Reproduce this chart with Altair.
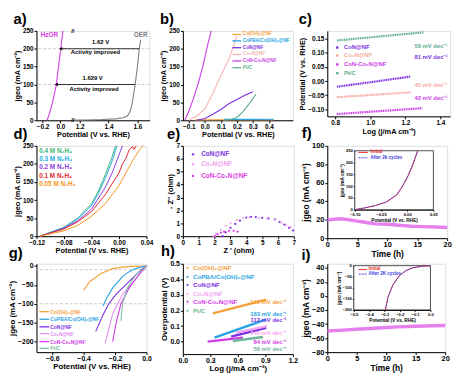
import altair as alt
import pandas as pd

FONT = "Liberation Sans"

# ---------------- colours ----------------
ORANGE = "#f5a03a"; BLUE = "#29a3e3"; PURPLE = "#7b2fe0"; MAGENTA = "#d23be6"; GREEN = "#5fae8c"

# ---------------- (a) HzOR vs OER ----------------
a_hzor_v = [-0.148, -0.12, -0.09, -0.065, -0.045, -0.02, 0.004, 0.029]
a_hzor_j = [0, 20, 48, 75, 100, 150, 200, 250]
a_oer_v = [1.16, 1.25, 1.35, 1.45, 1.50, 1.53, 1.55, 1.565, 1.584, 1.60, 1.612, 1.622]
a_oer_j = [0.5, 1, 2, 4, 7, 12, 25, 50, 100, 150, 200, 225]
a_arrow_j = [200, 100]
a_arrow_hzor = [0.004, -0.045]
a_arrow_oer = [1.612, 1.584]
a_text = ["1.62 V", "Activity improved", "1.629 V", "Activity improved"]
a_text_x = [1.345, 1.31, 1.29, 1.30]
a_text_y = [218, 190, 118, 88]

# ---------------- (b) HzOR LSV ----------------
b_names = ["Co(OH)₂@NF", "CoPBA/Co(OH)₂@NF", "CoN@NF", "Co₂N@NF", "CoN-Co₂N@NF", "Pt/C"]
b_colors = [ORANGE, BLUE, PURPLE, "#f6b5b5", "#c93ee6", GREEN]
b_x = [[-0.06, 0.1, 0.25, 0.43],
       [0.12, 0.25, 0.43],
       [-0.05, 0.0, 0.05, 0.1, 0.15, 0.2, 0.25, 0.3],
       [-0.1, -0.05, 0.0, 0.05, 0.1, 0.15, 0.2],
       [-0.125, -0.1, -0.07, -0.04, -0.01, 0.02, 0.04],
       [0.12, 0.16, 0.2, 0.24, 0.28, 0.32]]
b_y = [[1.2, 1.3, 1.4, 1.5],
       [2.5, 2.6, 2.7],
       [0, 5, 17, 30, 46, 58, 70, 80],
       [0, 12, 32, 75, 125, 170, 235],
       [0, 25, 62, 105, 155, 215, 250],
       [0, 2, 8, 25, 48, 73]]

# ---------------- (c) Tafel HzOR ----------------
c_names = ["CoN@NF", "Co₂N@NF", "CoN-Co₂N@NF", "Pt/C"]
c_colors = [PURPLE, "#f7a9a0", "#cc3de8", GREEN]
c_x = [[0.81, 1.0, 1.23], [0.81, 1.23], [0.81, 1.296], [0.81, 1.304]]
c_y = [[-0.02, -0.004, 0.016], [-0.057, -0.04], [-0.117, -0.096], [0.144, 0.173]]
c_slopes = ["58 mV dec⁻¹", "81 mV dec⁻¹", "45 mV dec⁻¹", "42 mV dec⁻¹"]
c_slope_colors = [GREEN, PURPLE, "#f7a9a0", "#cc3de8"]
c_slope_y = [0.123, 0.086, -0.015, -0.059]

# ---------------- (d) N2H4 concentration ----------------
d_names = ["0.4 M N₂H₄", "0.3 M N₂H₄", "0.2 M N₂H₄", "0.1 M N₂H₄", "0.05 M N₂H₄"]
d_colors = ["#3cb878", "#27aae1", "#8c3be0", "#e6262e", "#f7941d"]
d_x = [[-0.115, -0.08, -0.06, -0.04, -0.03, -0.02, -0.01, -0.005],
       [-0.115, -0.08, -0.06, -0.04, -0.03, -0.02, -0.01, -0.003],
       [-0.115, -0.08, -0.06, -0.04, -0.02, -0.01, 0.0, 0.005],
       [-0.115, -0.08, -0.06, -0.04, -0.02, -0.01, 0.0, 0.005, 0.01, 0.015, 0.02, 0.022, 0.025],
       [-0.115, -0.08, -0.06, -0.04, -0.02, 0.0, 0.01, 0.02, 0.03, 0.035]]
d_y = [[0, 25, 50, 90, 125, 170, 220, 250],
       [0, 24, 48, 85, 118, 160, 208, 250],
       [0, 22, 43, 75, 135, 175, 225, 250],
       [0, 20, 40, 68, 115, 145, 175, 200, 215, 240, 248, 240, 250],
       [0, 15, 30, 55, 90, 140, 175, 210, 240, 250]]

# ---------------- (e) Nyquist ----------------
e_names = ["CoN@NF", "Co₂N@NF", "CoN-Co₂N@NF"]
e_colors = [PURPLE, "#f0a0f0", "#d83be0"]
e_x = [[2.5, 2.7, 3.0, 3.3, 3.6, 4.0, 4.3, 4.6, 5.0, 5.4, 5.8, 6.1, 6.4, 6.7, 6.95],
       [1.95, 2.1, 2.4, 2.7, 3.0, 3.4, 3.8, 4.2, 4.8, 5.3, 5.8, 6.2, 6.5, 6.8],
       [2.05, 2.2, 2.4, 2.6, 2.9, 3.2, 3.45]]
e_y = [[0, 0.3, 0.65, 0.95, 1.2, 1.45, 1.5, 1.48, 1.42, 1.38, 1.3, 1.1, 0.9, 0.65, 0.45],
       [0, 0.2, 0.5, 0.8, 1.0, 1.25, 1.4, 1.45, 1.4, 1.35, 1.25, 1.05, 0.85, 0.7],
       [0, 0.15, 0.27, 0.35, 0.42, 0.42, 0.35]]

# ---------------- (f) HzOR stability ----------------
f_t = [0, 1, 2, 3, 4, 5, 6, 7, 8, 10, 12, 14, 16, 18, 20]
f_j = [19.5, 20.5, 21, 20.5, 19.5, 18.5, 17.5, 16.5, 15.5, 15, 14, 13, 12.5, 12, 11.5]
f_in_names = ["Initial", "After 2k cycles"]
f_in_colors = ["#e8282e", "#3a3ae0"]
f_in_v = [-0.10, -0.08, -0.06, -0.04, -0.02, -0.01, 0.0, 0.01, 0.02]
f_in_j1 = [0, 8, 18, 32, 62, 95, 135, 185, 250]
f_in_j2 = [0, 8, 18, 33, 64, 97, 138, 190, 248]

# ---------------- (g) HER LSV ----------------
g_names = b_names
g_colors = [ORANGE, BLUE, PURPLE, "#e58ef2", MAGENTA, "#7cc0a0"]
g_x = [[0.0, -0.1, -0.15, -0.215, -0.29, -0.36, -0.40],
       [0.0, -0.03, -0.069, -0.11, -0.153, -0.215, -0.25, -0.277],
       [0.0, -0.027, -0.11, -0.194, -0.24, -0.277, -0.323],
       [0.0, -0.04, -0.08, -0.153, -0.215, -0.263],
       [0.0, -0.05, -0.11, -0.163, -0.194, -0.215],
       [0.0, -0.069, -0.121, -0.153, -0.163]]
g_y = [[0, -1, -3, -7, -20, -41, -64],
       [0, -2, -7, -15, -28, -58, -82, -106],
       [0, -7, -41, -75, -100, -130, -173],
       [0, -18, -41, -75, -126, -204],
       [0, -24, -58, -100, -151, -200],
       [0, -24, -58, -100, -145]]

# ---------------- (h) Tafel HER ----------------
h_colors = [ORANGE, BLUE, PURPLE, "#f2a6f2", MAGENTA, "#6fb597"]
h_x = [[0.327, 0.909], [0.345, 0.909], [0.527, 0.909], [0.58, 0.916], [0.27, 0.655], [0.545, 0.873]]
h_y = [[0.181, 0.27], [0.026, 0.143], [0.032, 0.089], [0.057, 0.10], [0.0, 0.026], [0.004, 0.03]]
h_slopes = ["140 mV dec⁻¹", "183 mV dec⁻¹", "112 mV dec⁻¹", "140 mV dec⁻¹", "84 mV dec⁻¹", "56 mV dec⁻¹"]
h_slope_y = [0.253, 0.175, 0.138, 0.053, -0.002, -0.049]

# ---------------- (i) HER stability ----------------
i_t = [0, 2, 5, 8, 10, 12, 15, 18, 20]
i_j = [-50, -49, -47.5, -46, -45, -44, -43, -42.5, -42]
i_in_v = [0.0, -0.05, -0.117, -0.16, -0.202, -0.245, -0.277, -0.294]
i_in_j1 = [0, -2, -10, -22, -44, -86, -142, -200]
i_in_j2 = [0, -2, -10, -23, -45, -88, -144, -200]


# ================= helpers =================
def ax(title, values=None, fmt=None, ls=6.5, ts=7.5, **kw):
    d = dict(title=title, labelFontSize=ls, titleFontSize=ts, labelFontWeight="bold",
             titleFontWeight="bold", grid=False, tickSize=2.5, labelPadding=1, titlePadding=1,
             domainColor="black", tickColor="black", labelColor="black", titleColor="black",
             labelFont=FONT, titleFont=FONT, labelFlush=False, labelOverlap=False)
    if values is not None:
        d["values"] = values
    if fmt:
        d["format"] = fmt
    d.update(kw)
    return alt.Axis(**d)


def series_df(names, xs, ys, colors):
    rows = []
    for n, xv, yv, c in zip(names, xs, ys, colors):
        for k, (a, b) in enumerate(zip(xv, yv)):
            rows.append(dict(x=a, y=b, s=n, c=c, o=k))
    return pd.DataFrame(rows)


def lines(df, xe, ye, sw=1.0, dash=None, opacity=1.0):
    m = dict(strokeWidth=sw, opacity=opacity)
    if dash:
        m["strokeDash"] = dash
    return alt.Chart(df).mark_line(**m).encode(
        x=xe, y=ye, color=alt.Color("c:N", scale=None), detail="s:N", order="o:Q")


def texts(df, xe, ye, size=6, align="left", weight="bold"):
    return alt.Chart(df).mark_text(align=align, baseline="middle", fontSize=size,
                                   fontWeight=weight, font=FONT).encode(
        x=xe, y=ye, text="t:N", color=alt.Color("c:N", scale=None))


def tdf(t, x, y, c):
    n = len(t)
    if not isinstance(x, list):
        x = [x] * n
    if not isinstance(c, list):
        c = [c] * n
    return pd.DataFrame({"t": t, "x": x, "y": y, "c": c})


def title(s):
    return alt.TitleParams(text=s, anchor="start", fontSize=15, fontWeight="bold",
                           font=FONT, color="black", offset=1)


# ================= (a) =================
a_xe = alt.X("x:Q", scale=alt.Scale(domain=[-0.267, 0.14, 1.16, 1.683], range=[0, 37, 38, 115],
                                     nice=False, zero=False),
             axis=ax("Potential (V vs. RHE)", [-0.2, 0.0, 1.2, 1.4, 1.6], ".1f"))
a_ye = alt.Y("y:Q", scale=alt.Scale(domain=[0, 250], nice=False),
             axis=ax("jgeo (mA cm⁻²)", list(range(0, 251, 50))))
a_ref = alt.Chart(pd.DataFrame({"y": a_arrow_j})).mark_rule(
    color="#bbbbbb", strokeDash=[3, 2], strokeWidth=0.8).encode(y=a_ye)
a_lines = lines(series_df(["HzOR", "OER"], [a_hzor_v, a_oer_v], [a_hzor_j, a_oer_j],
                          ["#d63ce8", "#7f7f7f"]), a_xe, a_ye, sw=1.1)
a_arr_df = pd.DataFrame({"x": a_arrow_oer, "x2": a_arrow_hzor, "y": a_arrow_j})
a_arr = alt.Chart(a_arr_df).mark_rule(color="black", strokeWidth=0.8).encode(x=a_xe, x2="x2:Q", y=a_ye)
a_head = alt.Chart(pd.DataFrame({"x": a_arrow_hzor, "y": a_arrow_j})).mark_point(
    shape="triangle-left", filled=True, size=14, color="black", opacity=1).encode(x=a_xe, y=a_ye)
a_txt = texts(tdf(a_text, a_text_x, a_text_y, "black"), a_xe, a_ye, size=6, align="center")
a_lbl2 = texts(tdf(["HzOR"], [-0.22], [238], ["#d63ce8"]), a_xe, a_ye, size=6.5, align="left")
a_lbl3 = texts(tdf(["OER"], [1.67], [238], ["#7f7f7f"]), a_xe, a_ye, size=6.5, align="right")
a_brk = texts(tdf(["//", "//"], [0.15, 0.15], [250, 0], "black"), a_xe, a_ye, size=6, align="center")
panel_a = alt.layer(a_ref, a_lines, a_arr, a_head, a_txt, a_lbl2, a_lbl3, a_brk).properties(
    width=115, height=91, title=title("a)"))

# ================= (b) =================
b_xe = alt.X("x:Q", scale=alt.Scale(domain=[-0.137, 0.55], nice=False, zero=False),
             axis=ax("Potential (V vs. RHE)", [-0.1, 0.0, 0.1, 0.2, 0.3, 0.4], ".1f"))
b_ye = alt.Y("y:Q", scale=alt.Scale(domain=[0, 250], nice=False),
             axis=ax("jgeo (mA cm⁻²)", list(range(0, 251, 50))))
b_lines = lines(series_df(b_names, b_x, b_y, b_colors), b_xe, b_ye, sw=1.1)
b_leg_y = [240, 222, 203, 184, 166, 147]
b_leg = pd.DataFrame({"x": [0.172] * 6, "x2": [0.227] * 6, "y": b_leg_y, "c": b_colors})
b_leg_l = alt.Chart(b_leg).mark_rule(strokeWidth=1.3).encode(
    x=b_xe, x2="x2:Q", y=b_ye, color=alt.Color("c:N", scale=None))
b_leg_t = texts(tdf(b_names, 0.237, b_leg_y, b_colors), b_xe, b_ye, size=4.8)
panel_b = alt.layer(b_lines, b_leg_l, b_leg_t).properties(width=112, height=91, title=title("b)"))

# ================= (c) =================
c_xe = alt.X("x:Q", scale=alt.Scale(domain=[0.755, 1.455], nice=False, zero=False),
             axis=ax("Log (j/mA cm⁻²)", [0.8, 1.0, 1.2, 1.4], ".1f"))
c_ye = alt.Y("y:Q", scale=alt.Scale(domain=[-0.125, 0.178], nice=False, zero=False),
             axis=ax("Potential (V vs. RHE)", [-0.10, -0.05, 0.0, 0.05, 0.10, 0.15], ".2f"))
c_lines = lines(series_df(c_names, c_x, c_y, c_colors), c_xe, c_ye, sw=2.2, dash=[1.2, 0.6])
c_leg_y = [0.119, 0.091, 0.059, 0.028]
c_leg_p = alt.Chart(pd.DataFrame({"x": [0.812] * 4, "y": c_leg_y, "c": c_colors})).mark_point(
    shape="square", filled=True, size=6, opacity=1).encode(x=c_xe, y=c_ye, color=alt.Color("c:N", scale=None))
c_leg_t = texts(tdf(c_names, 0.85, c_leg_y, c_colors), c_xe, c_ye, size=6)
c_sl = texts(tdf(c_slopes, 1.44, c_slope_y, c_slope_colors), c_xe, c_ye, size=6, align="right")
panel_c = alt.layer(c_lines, c_leg_p, c_leg_t, c_sl).properties(width=125, height=87, title=title("c)"))

# ================= (d) =================
d_xe = alt.X("x:Q", scale=alt.Scale(domain=[-0.12, 0.04], nice=False, zero=False),
             axis=ax("Potential (V vs. RHE)", [-0.12, -0.08, -0.04, 0.0, 0.04], ".2f"))
d_ye = alt.Y("y:Q", scale=alt.Scale(domain=[0, 250], nice=False),
             axis=ax("jgeo (mA cm⁻²)", list(range(0, 251, 50))))
d_lines = lines(series_df(d_names, d_x, d_y, d_colors), d_xe, d_ye, sw=1.0)
d_leg_t = texts(tdf(d_names, -0.116, [236, 214, 190, 166, 144], d_colors), d_xe, d_ye, size=6.5)
panel_d = alt.layer(d_lines, d_leg_t).properties(width=112, height=92, title=title("d)"))

# ================= (e) =================
e_xe = alt.X("x:Q", scale=alt.Scale(domain=[0, 7], nice=False), axis=ax("Z ' (ohm)", list(range(0, 8))))
e_ye = alt.Y("y:Q", scale=alt.Scale(domain=[0, 7], nice=False), axis=ax("- Z'' (ohm)", list(range(0, 8))))
e_pts = alt.Chart(series_df(e_names, e_x, e_y, e_colors)).mark_point(
    filled=True, size=5, opacity=1).encode(x=e_xe, y=e_ye, color=alt.Color("c:N", scale=None))
e_leg_y = [6.34, 5.57, 4.67]
e_leg_p = alt.Chart(pd.DataFrame({"x": [0.64] * 3, "y": e_leg_y, "c": e_colors})).mark_point(
    filled=True, size=6, opacity=1).encode(x=e_xe, y=e_ye, color=alt.Color("c:N", scale=None))
e_leg_t = texts(tdf(e_names, 1.16, e_leg_y, e_colors), e_xe, e_ye, size=6.5)
panel_e = alt.layer(e_pts, e_leg_p, e_leg_t).properties(width=113, height=92, title=title("e)"))


# ================= insets helper =================
def inset(vs, j1, j2, names, colors, xdom, ydom, xrng, yrng, xvals, yvals, xfmt, xoff, yoff,
          leg_x, leg_x2, leg_tx, leg_y):
    ixe = alt.X("x:Q", scale=alt.Scale(domain=xdom, range=xrng, nice=False, zero=False),
                axis=ax("Potential (V vs. RHE)", xvals, xfmt, ls=4.2, ts=4.8, orient="bottom",
                        offset=xoff, tickSize=1.5, titlePadding=1))
    iye = alt.Y("y:Q", scale=alt.Scale(domain=ydom, range=yrng, nice=False, zero=False),
                axis=ax("jgeo (mA cm⁻²)", yvals, None, ls=4.2, ts=4.8, orient="left",
                        offset=yoff, tickSize=1.5, titlePadding=1))
    frame = alt.Chart(pd.DataFrame({"x": [xdom[0]], "x2": [xdom[1]], "y": [ydom[0]], "y2": [ydom[1]]})).mark_rect(
        fill="white", stroke="black", strokeWidth=0.7).encode(x=ixe, x2="x2:Q", y=iye, y2="y2:Q")
    l1 = lines(series_df(names[:1], [vs], [j1], colors[:1]), ixe, iye, sw=1.0)
    l2 = lines(series_df(names[1:], [vs], [j2], colors[1:]), ixe, iye, sw=0.9, dash=[2, 1])
    lg = pd.DataFrame({"x": [leg_x] * 2, "x2": [leg_x2] * 2, "y": leg_y, "c": colors,
                       "s": names})
    lg1 = alt.Chart(lg.iloc[:1]).mark_rule(strokeWidth=1).encode(
        x=ixe, x2="x2:Q", y=iye, color=alt.Color("c:N", scale=None))
    lg2 = alt.Chart(lg.iloc[1:]).mark_rule(strokeWidth=1, strokeDash=[2, 1]).encode(
        x=ixe, x2="x2:Q", y=iye, color=alt.Color("c:N", scale=None))
    lt = texts(tdf(names, leg_tx, leg_y, colors), ixe, iye, size=4.6)
    return alt.layer(frame, l1, l2, lg1, lg2, lt)


# ================= (f) =================
f_xe = alt.X("x:Q", scale=alt.Scale(domain=[0, 20], nice=False),
             axis=ax("Time (h)", [0, 5, 10, 15, 20], ls=7.5, ts=8.5, labelPadding=0, titlePadding=1.5))
f_ye = alt.Y("y:Q", scale=alt.Scale(domain=[0, 100], nice=False),
             axis=ax("jgeo (mA cm⁻²)", [0, 20, 40, 60, 80, 100], ls=7.5, ts=8.5))
f_band = lines(series_df(["HzOR"], [f_t], [f_j], ["#e060e8"]), f_xe, f_ye, sw=3.5, opacity=0.8)
f_in = inset(f_in_v, f_in_j1, f_in_j2, f_in_names, f_in_colors, [-0.10, 0.05], [0, 250],
             [28, 108], [65, 5], [-0.10, -0.05, 0.0, 0.05], [0, 50, 100, 150, 200, 250], ".2f",
             65 - 94, -28, -0.093, -0.075, -0.070, [243, 220])
panel_f = alt.layer(f_band, f_in).resolve_scale(x="independent", y="independent").properties(
    width=122, height=94, title=title("f)"))

# ================= (g) =================
g_xe = alt.X("x:Q", scale=alt.Scale(domain=[-0.7, 0.0], nice=False, zero=False),
             axis=ax("Potential (V vs. RHE)", [-0.6, -0.4, -0.2, 0.0], ".1f", ls=7, ts=8, labelPadding=0))
g_ye = alt.Y("y:Q", scale=alt.Scale(domain=[-228, 6], nice=False, zero=False),
             axis=ax("jgeo (mA cm⁻²)", [0, -50, -100, -150, -200], ls=7, ts=8))
g_ref = alt.Chart(pd.DataFrame({"y": [-10, -100]})).mark_rule(
    color="#bbbbbb", strokeDash=[3, 2], strokeWidth=0.8).encode(y=g_ye)
g_lines = lines(series_df(g_names, g_x, g_y, g_colors), g_xe, g_ye, sw=1.1)
g_leg_y = [-121, -141, -161, -179, -200, -218]
g_leg = pd.DataFrame({"x": [-0.681] * 6, "x2": [-0.619] * 6, "y": g_leg_y, "c": g_colors})
g_leg_l = alt.Chart(g_leg).mark_rule(strokeWidth=1.3).encode(
    x=g_xe, x2="x2:Q", y=g_ye, color=alt.Color("c:N", scale=None))
g_leg_t = texts(tdf(g_names, -0.612, g_leg_y, g_colors), g_xe, g_ye, size=5)
panel_g = alt.layer(g_ref, g_lines, g_leg_l, g_leg_t).properties(width=112, height=90, title=title("g)"))

# ================= (h) =================
h_xe = alt.X("x:Q", scale=alt.Scale(domain=[0, 1.2], nice=False, zero=False),
             axis=ax("Log (j/mA cm⁻²)", [0.0, 0.3, 0.6, 0.9, 1.2], ".1f", ls=7, ts=8, labelPadding=0))
h_ye = alt.Y("y:Q", scale=alt.Scale(domain=[-0.08, 0.5], nice=False, zero=False),
             axis=ax("Overpotential (V)", [0.0, 0.1, 0.2, 0.3, 0.4, 0.5], ".1f", ls=7, ts=8))
h_lines = lines(series_df(b_names, h_x, h_y, h_colors), h_xe, h_ye, sw=2.4)
h_leg_y = [0.473, 0.415, 0.364, 0.307, 0.256, 0.198]
h_leg_p = alt.Chart(pd.DataFrame({"x": [0.055] * 6, "y": h_leg_y, "c": h_colors})).mark_point(
    shape="triangle-right", filled=True, size=8, opacity=1).encode(
    x=h_xe, y=h_ye, color=alt.Color("c:N", scale=None))
h_leg_t = texts(tdf(b_names, 0.11, h_leg_y, h_colors), h_xe, h_ye, size=6.3)
h_sl = texts(tdf(h_slopes, 1.13, h_slope_y, h_colors), h_xe, h_ye, size=6, align="right")
panel_h = alt.layer(h_lines, h_leg_p, h_leg_t, h_sl).properties(width=112, height=92, title=title("h)"))

# ================= (i) =================
i_xe = alt.X("x:Q", scale=alt.Scale(domain=[0, 20], nice=False),
             axis=ax("Time (h)", [0, 5, 10, 15, 20], ls=7.5, ts=8.5, labelPadding=0, titlePadding=1.5))
i_ye = alt.Y("y:Q", scale=alt.Scale(domain=[-80, 46], nice=False, zero=False),
             axis=ax("jgeo (mA cm⁻²)", [-80, -60, -40, -20, 0, 20, 40], ls=7.5, ts=8.5))
i_band = lines(series_df(["HER"], [i_t], [i_j], ["#e060e8"]), i_xe, i_ye, sw=3.5, opacity=0.8)
i_in = inset(i_in_v, i_in_j1, i_in_j2, ["Initial", "After 2K cycles"], f_in_colors,
             [-0.5, 0.0], [-200, 0], [27, 105], [47, 2], [-0.5, -0.4, -0.3, -0.2, -0.1, 0.0],
             [0, -50, -100, -150, -200], ".1f", 47 - 90, -27, -0.468, -0.415, -0.404, [-17, -38])
panel_i = alt.layer(i_band, i_in).resolve_scale(x="independent", y="independent").properties(
    width=120, height=90, title=title("i)"))

chart = alt.ConcatChart(
    concat=[panel_a, panel_b, panel_c, panel_d, panel_e, panel_f, panel_g, panel_h, panel_i],
    columns=3, spacing={"row": 26, "column": 34}, bounds="flush",
).properties(padding={"left": 0, "top": 0, "right": 0, "bottom": 0}).configure_view(
    stroke="black", strokeWidth=0.9
).configure(font=FONT)

chart.save("out.html", embed_options={"renderer": "svg", "actions": False})
